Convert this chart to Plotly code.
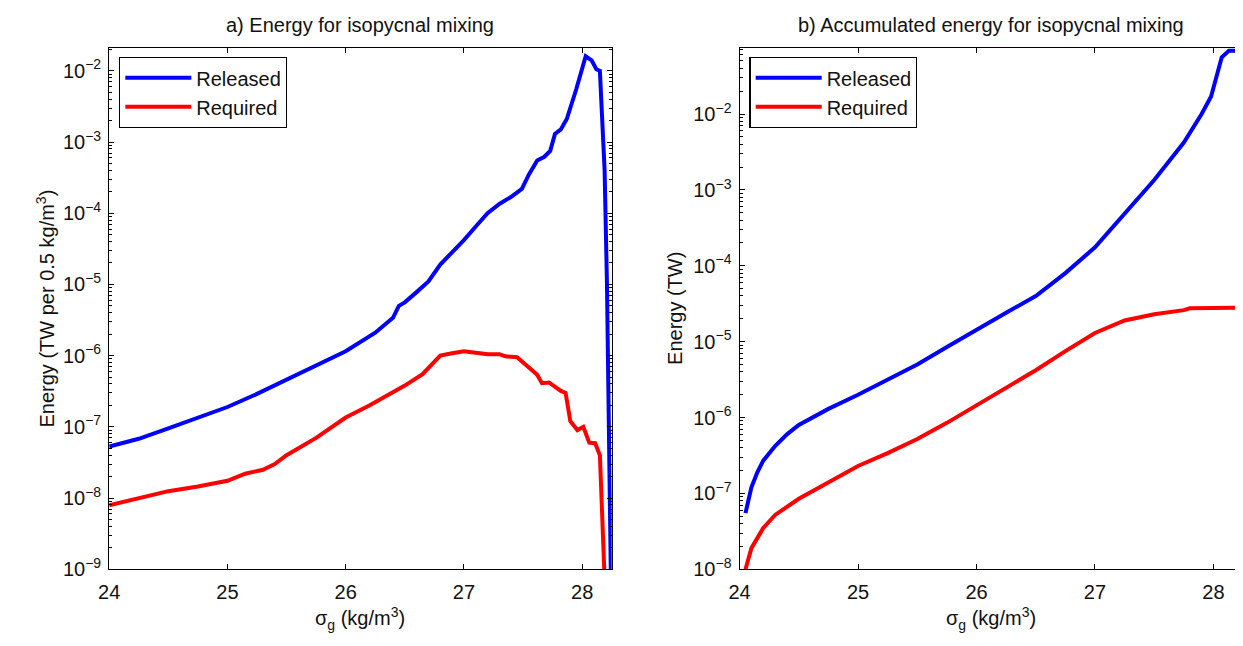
import plotly.graph_objects as go

# ---------------- data ----------------
# a) Energy for isopycnal mixing (TW per 0.5 kg/m^3)
sigma_a_rel = [24.0, 24.25, 24.5, 24.75, 25.0, 25.25, 25.5, 25.75, 26.0, 26.25, 26.4, 26.45,
               26.5, 26.6, 26.7, 26.8, 26.9, 27.0, 27.1, 27.2, 27.3, 27.4, 27.49, 27.55,
               27.62, 27.68, 27.73, 27.77, 27.82, 27.87, 27.95, 28.03, 28.08, 28.12,
               28.15, 28.19, 28.21, 28.25]
energy_a_rel = [5.3e-8, 6.8e-8, 9.5e-8, 1.35e-7, 1.9e-7, 2.9e-7, 4.6e-7, 7.3e-7, 1.15e-6, 2.1e-6,
                3.4e-6, 5.0e-6, 5.6e-6, 7.8e-6, 1.1e-5, 1.9e-5, 2.8e-5, 4.2e-5, 6.5e-5, 1.0e-4,
                1.35e-4, 1.7e-4, 2.2e-4, 3.5e-4, 5.5e-4, 6.2e-4, 7.5e-4, 1.3e-3, 1.5e-3, 2.1e-3,
                5.5e-3, 1.6e-2, 1.4e-2, 1.05e-2, 1.0e-2, 4e-4, 1e-5, 1e-10]

sigma_a_req = [24.0, 24.25, 24.5, 24.75, 25.0, 25.15, 25.3, 25.4, 25.5, 25.75, 26.0, 26.2,
               26.5, 26.65, 26.8, 26.9, 27.0, 27.1, 27.2, 27.3, 27.35, 27.45, 27.55, 27.62,
               27.66, 27.72, 27.82, 27.86, 27.9, 27.96, 28.01, 28.06, 28.11, 28.15, 28.21]
energy_a_req = [7.9e-9, 1.0e-8, 1.25e-8, 1.45e-8, 1.75e-8, 2.2e-8, 2.5e-8, 3.0e-8, 4.0e-8, 7.0e-8,
                1.35e-7, 2.0e-7, 3.8e-7, 5.5e-7, 1.0e-6, 1.08e-6, 1.15e-6, 1.1e-6, 1.05e-6,
                1.05e-6, 9.8e-7, 9.5e-7, 6.8e-7, 5.4e-7, 4.1e-7, 4.2e-7, 3.2e-7, 3.0e-7,
                1.2e-7, 9.0e-8, 1.0e-7, 6.0e-8, 5.9e-8, 4.0e-8, 1e-10]

# b) Accumulated energy for isopycnal mixing (TW)
sigma_b_rel = [24.05, 24.1, 24.15, 24.2, 24.3, 24.4, 24.5, 24.75, 25.0, 25.25, 25.5, 25.75,
               26.0, 26.25, 26.5, 26.75, 27.0, 27.25, 27.5, 27.75, 27.9, 27.98, 28.07,
               28.13, 28.25]
energy_b_rel = [5.5e-8, 1.2e-7, 1.9e-7, 2.7e-7, 4.2e-7, 6.0e-7, 8.0e-7, 1.3e-6, 2.0e-6, 3.2e-6,
                5.0e-6, 8.5e-6, 1.45e-5, 2.4e-5, 4.0e-5, 8.0e-5, 1.75e-4, 4.8e-4, 1.35e-3,
                4.2e-3, 1.0e-2, 1.7e-2, 5.6e-2, 6.8e-2, 6.8e-2]

sigma_b_req = [24.05, 24.1, 24.2, 24.3, 24.5, 24.75, 25.0, 25.25, 25.5, 25.75, 26.0, 26.25,
               26.5, 26.75, 27.0, 27.25, 27.5, 27.75, 27.8, 28.25]
energy_b_req = [1.0e-8, 1.9e-8, 3.5e-8, 5.2e-8, 8.5e-8, 1.4e-7, 2.3e-7, 3.4e-7, 5.2e-7, 8.5e-7,
                1.45e-6, 2.5e-6, 4.2e-6, 7.5e-6, 1.3e-5, 1.9e-5, 2.3e-5, 2.6e-5, 2.75e-5, 2.8e-5]

xticks = [24, 25, 26, 27, 28]
exps_a = [-9, -8, -7, -6, -5, -4, -3, -2]
exps_b = [-8, -7, -6, -5, -4, -3, -2]

titles = ["a) Energy for isopycnal mixing", "b) Accumulated energy for isopycnal mixing"]
ytitles = ["Energy (TW per 0.5 kg/m<sup>3</sup>)", "Energy (TW)"]
xtitle = "σ<sub>g</sub> (kg/m<sup>3</sup>)"
names = ["Released", "Required"]

BLUE = "#0000ff"
RED = "#ff0000"
FONT = "Liberation Sans, Arial, Helvetica, sans-serif"
FS = 20
W, H = 1243, 646

fig = go.Figure()
fig.add_trace(go.Scatter(x=sigma_a_rel, y=energy_a_rel, mode="lines", name=names[0],
                         line=dict(color=BLUE, width=4), xaxis="x", yaxis="y", legend="legend"))
fig.add_trace(go.Scatter(x=sigma_a_req, y=energy_a_req, mode="lines", name=names[1],
                         line=dict(color=RED, width=4), xaxis="x", yaxis="y", legend="legend"))
fig.add_trace(go.Scatter(x=sigma_b_rel, y=energy_b_rel, mode="lines", name=names[0],
                         line=dict(color=BLUE, width=4), xaxis="x2", yaxis="y2", legend="legend2"))
fig.add_trace(go.Scatter(x=sigma_b_req, y=energy_b_req, mode="lines", name=names[1],
                         line=dict(color=RED, width=4), xaxis="x2", yaxis="y2", legend="legend2"))

def minor_vals(exps):
    vals = []
    for e in range(exps[0] - 1, exps[-1] + 1):
        for m in range(2, 10):
            vals.append(m * 10.0 ** e)
    return vals

def ytick_text(exps):
    return ["10<sup>%s</sup>" % ("−%d" % (-e) if e < 0 else str(e)) for e in exps]

# pixel geometry -> paper fractions
ax_a = (91, 598)
ax_b = (727, 1235)
top_px, bot_px = 40.7, 571
ydom = [(H - bot_px) / H, (H - top_px) / H]

tfont = dict(family=FONT, size=FS, color="#111")
common_x = dict(range=[24, 28.25], tickvals=xticks, ticktext=[str(v) for v in xticks],
                ticks="inside", ticklen=5, tickcolor="black", tickwidth=1,
                showline=True, linecolor="black", linewidth=1.2, mirror="allticks",
                showgrid=False, zeroline=False, tickfont=tfont, ticklabelstandoff=5)
common_y = dict(type="log", ticks="inside", ticklen=5, tickcolor="black", tickwidth=1,
                showline=True, linecolor="black", linewidth=1.2, mirror="allticks",
                showgrid=False, zeroline=False, tickfont=tfont, ticklabelstandoff=3)

leg = dict(xanchor="left", yanchor="top", bgcolor="white", bordercolor="black",
           borderwidth=1.2, font=tfont, itemwidth=66, tracegroupgap=0)

fig.update_layout(
    width=W, height=H,
    margin=dict(l=0, r=0, t=0, b=0),
    paper_bgcolor="white", plot_bgcolor="white",
    font=tfont,
    xaxis=dict(domain=[ax_a[0] / W, ax_a[1] / W], anchor="y", **common_x),
    yaxis=dict(domain=ydom, anchor="x", range=[-9, -1.68],
               tickvals=[10.0 ** e for e in exps_a], ticktext=ytick_text(exps_a),
               minor=dict(tickvals=minor_vals(exps_a), ticks="inside", ticklen=3,
                          tickcolor="black", showgrid=False),
               **common_y),
    xaxis2=dict(domain=[ax_b[0] / W, ax_b[1] / W], anchor="y2", **common_x),
    yaxis2=dict(domain=ydom, anchor="x2", range=[-8, -1.13],
                tickvals=[10.0 ** e for e in exps_b], ticktext=ytick_text(exps_b),
                minor=dict(tickvals=minor_vals(exps_b), ticks="inside", ticklen=3,
                           tickcolor="black", showgrid=False),
                **common_y),
    legend=dict(x=101 / W, y=1 - 50 / H, **leg),
    legend2=dict(x=737 / W, y=1 - 50 / H, **leg),
    showlegend=True,
)

ann = []
for i, (x0, x1) in enumerate([ax_a, ax_b]):
    cx = (x0 + x1) / 2 / W
    ann.append(dict(text=titles[i], x=cx, y=1 - 17 / H, xref="paper", yref="paper",
                    xanchor="center", yanchor="middle", showarrow=False,
                    font=dict(family=FONT, size=20, color="#111")))
    ann.append(dict(text=xtitle, x=cx, y=1 - 621 / H, xref="paper", yref="paper",
                    xanchor="center", yanchor="middle", showarrow=False, font=tfont))
ann.append(dict(text=ytitles[0], x=27 / W, y=1 - 306 / H, xref="paper", yref="paper",
                xanchor="center", yanchor="middle", showarrow=False, textangle=-90, font=tfont))
ann.append(dict(text=ytitles[1], x=662 / W, y=1 - 306 / H, xref="paper", yref="paper",
                xanchor="center", yanchor="middle", showarrow=False, textangle=-90, font=tfont))
fig.update_layout(annotations=ann)

fig.write_html("out.html")
